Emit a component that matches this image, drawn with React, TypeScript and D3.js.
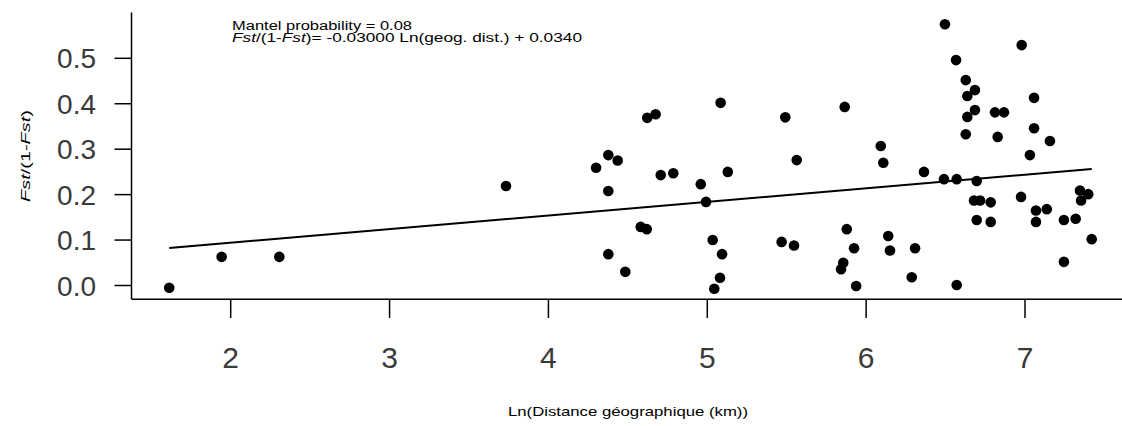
import React from "react";
import * as d3 from "d3";

const lnDist: number[] = [
  1.613, 1.943, 2.306, 3.733, 4.300, 4.377, 4.436, 4.377, 4.377, 4.484,
  4.581, 4.619, 4.622, 4.675, 4.707, 4.786, 4.959, 4.992, 5.084, 5.129,
  5.034, 5.093, 5.080, 5.044, 5.491, 5.563, 5.468, 5.546, 6.496, 5.865,
  6.092, 6.108, 6.364, 6.490, 6.570, 6.566, 6.627, 6.637, 6.685, 6.637,
  6.685, 6.627, 6.811, 6.868, 6.828, 6.696, 6.679, 6.717, 6.784, 6.696,
  6.784, 6.979, 7.057, 7.057, 7.157, 7.031, 6.975, 7.069, 7.137, 7.069,
  7.245, 7.319, 7.346, 7.398, 7.353, 7.420, 7.245, 5.878, 5.924, 5.856,
  5.842, 5.937, 6.139, 6.150, 6.308, 6.287, 6.570,
];
const fstRatio: number[] = [
  -0.005, 0.063, 0.063, 0.219, 0.259, 0.287, 0.275, 0.208, 0.069, 0.030,
  0.129, 0.124, 0.369, 0.377, 0.243, 0.247, 0.223, 0.184, 0.402, 0.250,
  0.100, 0.069, 0.017, -0.007, 0.370, 0.276, 0.096, 0.088, 0.575, 0.393,
  0.307, 0.270, 0.250, 0.234, 0.234, 0.496, 0.452, 0.417, 0.430, 0.371,
  0.386, 0.333, 0.381, 0.381, 0.327, 0.230, 0.187, 0.187, 0.183, 0.144,
  0.140, 0.529, 0.413, 0.346, 0.318, 0.287, 0.195, 0.165, 0.168, 0.140,
  0.144, 0.147, 0.209, 0.201, 0.187, 0.102, 0.052, 0.124, 0.082, 0.050,
  0.036, -0.001, 0.109, 0.077, 0.082, 0.018, 0.001,
];
const xTicks: number[] = [2, 3, 4, 5, 6, 7];
const yTicks: number[] = [0.0, 0.1, 0.2, 0.3, 0.4, 0.5];
const regIntercept = 0.034;
const regSlope = 0.03;

export default function App() {
  const W = 1122, H = 426;
  const x = d3.scaleLinear().domain([2, 7]).range([230.7, 1025]);
  const y = d3.scaleLinear().domain([0, 0.5]).range([285.5, 58.3]);
  const axX = 131.5, axY = 299.3, axTop = 12.5;
  const xmin = d3.min(lnDist) as number;
  const xmax = d3.max(lnDist) as number;
  const line = d3.line<number>().x((d) => x(d)).y((d) => y(regIntercept + regSlope * d));
  const font = "'Liberation Sans', Arial, sans-serif";
  return (
    <svg width={W} height={H} style={{ position: "absolute", left: 0, top: 0, background: "#fff" }}>
      <rect width={W} height={H} fill="#fff" />
      {/* axes */}
      <line x1={axX} y1={axTop} x2={axX} y2={axY} stroke="#000" strokeWidth={1.5} />
      <line x1={axX} y1={axY} x2={W} y2={axY} stroke="#000" strokeWidth={1.5} />
      {yTicks.map((t) => (
        <g key={"y" + t}>
          <line x1={114.5} x2={axX} y1={y(t)} y2={y(t)} stroke="#000" strokeWidth={1.5} />
          <text x={96} y={y(t)} dy="0.36em" textAnchor="end" fontFamily={font} fontSize={28} fill="#3a3a3a">
            {t.toFixed(1)}
          </text>
        </g>
      ))}
      {xTicks.map((t) => (
        <g key={"x" + t}>
          <line x1={x(t)} x2={x(t)} y1={axY} y2={318} stroke="#000" strokeWidth={1.5} />
          <text x={x(t)} y={357} dy="0.36em" textAnchor="middle" fontFamily={font} fontSize={30} fill="#3a3a3a">
            {t}
          </text>
        </g>
      ))}
      {/* regression line */}
      <path d={line([xmin, xmax]) || ""} stroke="#000" strokeWidth={2} fill="none" />
      {/* points */}
      {lnDist.map((d, i) => (
        <circle key={i} cx={x(d)} cy={y(fstRatio[i])} r={5.3} fill="#000" />
      ))}
      {/* annotation */}
      <text x={232} y={29.5} fontFamily={font} fontSize={12} fill="#000" textLength={180} lengthAdjust="spacingAndGlyphs">
        Mantel probability = 0.08
      </text>
      <text x={232} y={41.5} fontFamily={font} fontSize={12} fill="#000" textLength={350} lengthAdjust="spacingAndGlyphs">
        <tspan fontStyle="italic">Fst</tspan>/(1-<tspan fontStyle="italic">Fst</tspan>)= -0.03000 Ln(geog. dist.) + 0.0340
      </text>
      {/* axis titles */}
      <text x={628} y={416} textAnchor="middle" fontFamily={font} fontSize={13} fill="#000" textLength={240} lengthAdjust="spacingAndGlyphs">
        Ln(Distance géographique (km))
      </text>
      <text transform="translate(30,156) rotate(-90)" textAnchor="middle" fontFamily={font} fontSize={13} fill="#000" textLength={92} lengthAdjust="spacingAndGlyphs">
        <tspan fontStyle="italic">Fst</tspan>/(1-<tspan fontStyle="italic">Fst</tspan>)
      </text>
    </svg>
  );
}
